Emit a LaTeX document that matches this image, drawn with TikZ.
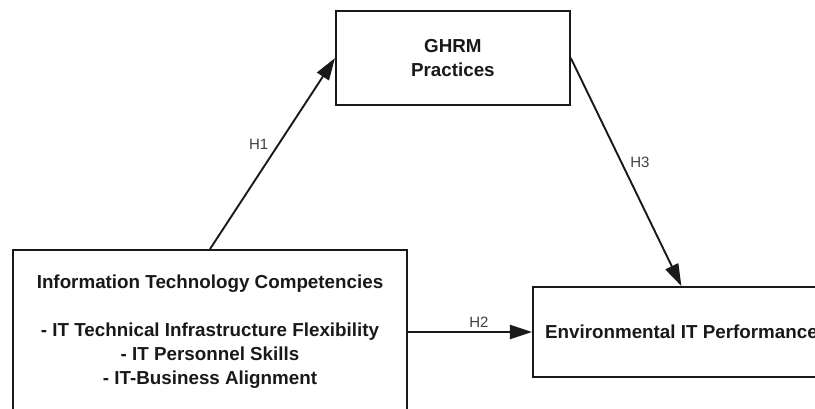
\documentclass[tikz,border=0pt]{standalone}
\usepackage{fontspec}
\setmainfont{Liberation Sans}
\usepackage{tikz}
\usetikzlibrary{arrows.meta}
\usetikzlibrary{positioning}

\begin{document}
\begin{tikzpicture}[
        >={Triangle[length=22pt,width=14pt]},
        every node/.style={font=\fontsize{18.8}{24}\selectfont\bfseries,text=black!90},
        item/.style={rectangle,line width=1.9pt,draw=black!90,align=center},
        hyp/.style={font=\fontsize{15}{18}\selectfont,text=black!75},
        conn/.style={->,line width=1.9pt,draw=black!90}
      ]
      \useasboundingbox (0,0) rectangle (815pt,408pt);
      \clip (0,0) rectangle (815pt,408pt);
      \node(itc)[item,minimum width=394pt,minimum height=164pt] at (210pt,76pt)
        {Information Technology Competencies\\[24pt]- IT Technical Infrastructure Flexibility\\- IT Personnel Skills\\- IT-Business Alignment};
      \node(ghrm)[item,minimum width=234pt,minimum height=94pt,above right=143pt and -73pt of itc]{GHRM\\Practices};
      \node(env)[item,minimum width=297pt,minimum height=90pt,right=124pt of itc]{Environmental IT Performance};
      \draw[conn] (itc.north) -- node[hyp,above left]{H1} (ghrm.west);
      \draw[conn] (itc.east) -- node[hyp,above,xshift=9pt]{H2} (env.west);
      \draw[conn] (ghrm.east) -- node[hyp,above right]{H3} (env.north);
\end{tikzpicture}
\end{document}
